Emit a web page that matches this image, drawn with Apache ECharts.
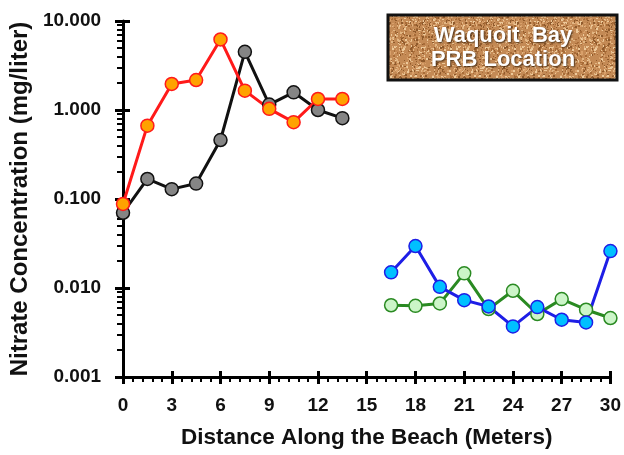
<!DOCTYPE html>
<html>
<head>
<meta charset="utf-8">
<script src="https://cdn.jsdelivr.net/npm/echarts@6/dist/echarts.min.js"></script>
<style>
	html, body { margin: 0; padding: 0; background: #fff; }
	#chart { width: 624px; height: 455px; }
</style>
</head>
<body>
<div id="chart"></div>
<script>
// distance (m) along the beach
var xNorth = [0, 1.5, 3, 4.5, 6, 7.5, 9, 10.5, 12, 13.5];
var xSouth = [16.5, 18, 19.5, 21, 22.5, 24, 25.5, 27, 28.5, 30];
// nitrate (mg/liter)
var blackVals = [0.070, 0.168, 0.129, 0.149, 0.46, 4.5, 1.15, 1.58, 1.0, 0.81];
var redVals = [0.088, 0.667, 1.96, 2.17, 6.2, 1.65, 1.03, 0.73, 1.33, 1.33];
var blueVals = [0.0150, 0.0296, 0.0103, 0.0073, 0.0062, 0.0037, 0.0061, 0.0044, 0.0041, 0.026];
var greenVals = [0.0064, 0.0063, 0.0067, 0.0146, 0.0058, 0.0093, 0.0051, 0.0075, 0.0057, 0.0046];
var xTicks = [0, 3, 6, 9, 12, 15, 18, 21, 24, 27, 30];
var yTicks = [0.001, 0.01, 0.1, 1, 10];

var FONT = 'Liberation Sans';

function pairs(xs, ys) {
	var out = [];
	for (var i = 0; i < xs.length; i++) {
		out.push([xs[i], ys[i]]);
	}
	return out;
}

// minor ticks 2..9 for each decade
var yMinor = [];
for (var e = -3; e < 1; e++) {
	for (var k = 2; k < 10; k++) {
		yMinor.push(+(k * Math.pow(10, e)).toPrecision(3));
	}
}

// cork texture for the label box
function corkPattern() {
	var c = document.createElement('canvas');
	c.width = 64; c.height = 64;
	var ctx = c.getContext('2d');
	ctx.fillStyle = '#c48a55';
	ctx.fillRect(0, 0, 64, 64);
	var seed = 7;
	function rnd() { seed = (seed * 9301 + 49297) % 233280; return seed / 233280; }
	var cols = ['#e2b683', '#a86c38', '#d9a06a', '#8f5a2c', '#edc99a'];
	for (var i = 0; i < 900; i++) {
		ctx.fillStyle = cols[Math.floor(rnd() * cols.length)];
		ctx.fillRect(Math.floor(rnd() * 64), Math.floor(rnd() * 64), 1 + Math.floor(rnd() * 2), 1 + Math.floor(rnd() * 2));
	}
	return c;
}

function lineSeries(name, data, lineColor, fillColor) {
	return {
		name: name,
		type: 'line',
		data: data,
		symbol: 'circle',
		symbolSize: 13,
		lineStyle: { color: lineColor, width: 3 },
		itemStyle: { color: fillColor, borderColor: lineColor, borderWidth: 1.5 },
		emphasis: { disabled: true },
		animation: false
	};
}

var myChart = echarts.init(document.getElementById('chart'));

var axisTxt = { color: '#111', fontFamily: FONT, fontWeight: 'bold', fontSize: 19 };

option = {
	backgroundColor: '#fff',
	animation: false,
	grid: { left: 121, right: 11, top: 21, bottom: 78, containLabel: false },
	xAxis: [{
		type: 'value',
		min: 0, max: 30, interval: 3,
		name: 'Distance Along the Beach (Meters)',
		nameLocation: 'middle',
		nameGap: 49,
		nameTextStyle: { color: '#111', fontFamily: FONT, fontWeight: 'bold', fontSize: 22.5 },
		axisLine: { show: true, lineStyle: { color: '#000', width: 3 } },
		axisTick: { show: true, length: 7, lineStyle: { color: '#000', width: 3 } },
		minorTick: { show: true, splitNumber: 5, length: 5, lineStyle: { color: '#000', width: 2 } },
		axisLabel: { margin: 19, textStyle: axisTxt },
		splitLine: { show: false }
	}, {
		// inner half of the major ticks
		type: 'value',
		min: 0, max: 30, interval: 3,
		position: 'bottom',
		axisLine: { show: false },
		axisTick: { show: true, inside: true, length: 6, lineStyle: { color: '#000', width: 3 } },
		axisLabel: { show: false },
		splitLine: { show: false }
	}],
	yAxis: [{
		type: 'log',
		min: 0.001, max: 10, logBase: 10,
		name: 'Nitrate Concentration (mg/liter)',
		nameLocation: 'middle',
		nameGap: 88,
		nameTextStyle: { color: '#111', fontFamily: FONT, fontWeight: 'bold', fontSize: 24 },
		axisLine: { show: true, lineStyle: { color: '#000', width: 3 } },
		axisTick: { show: true, length: 8, lineStyle: { color: '#000', width: 3 } },
		axisLabel: {
			margin: 22,
			textStyle: axisTxt,
			formatter: function(v) { return (+v).toFixed(3); }
		},
		splitLine: { show: false }
	}, {
		type: 'log',
		min: 0.001, max: 10, logBase: 10,
		position: 'left',
		axisLine: { show: false },
		axisTick: { show: true, inside: true, length: 7, lineStyle: { color: '#000', width: 3 } },
		axisLabel: { show: false },
		splitLine: { show: false }
	}, {
		// minor ticks
		type: 'log',
		min: 0.001, max: 10, logBase: 10,
		position: 'left',
		axisLine: { show: false },
		axisTick: { show: true, length: 6, customValues: yMinor, lineStyle: { color: '#000', width: 2 } },
		axisLabel: { show: false },
		splitLine: { show: false }
	}],
	graphic: [{
		type: 'rect',
		x: 388, y: 15,
		shape: { width: 229, height: 65 },
		style: { fill: { image: corkPattern(), repeat: 'repeat' }, stroke: '#111', lineWidth: 3 },
		z: 10
	}, {
		type: 'text',
		x: 503, y: 48,
		style: {
			text: 'Waquoit  Bay\nPRB Location',
			align: 'center', verticalAlign: 'middle',
			fill: '#fff', font: 'bold 22px "' + FONT + '"',
			lineHeight: 24,
			textShadowColor: 'rgba(40,20,0,0.8)', textShadowBlur: 2, textShadowOffsetX: 1, textShadowOffsetY: 1
		},
		z: 11
	}],
	series: [
		lineSeries('north gray', pairs(xNorth, blackVals), '#111', '#858585'),
		lineSeries('north red', pairs(xNorth, redVals), '#ff1a1a', '#ffa200'),
		lineSeries('south green', pairs(xSouth, greenVals), '#2a8a22', '#ccf5c8'),
		lineSeries('south blue', pairs(xSouth, blueVals), '#1e1ee6', '#00c0ff')
	]
};
myChart.setOption(option);
</script>
</body>
</html>
